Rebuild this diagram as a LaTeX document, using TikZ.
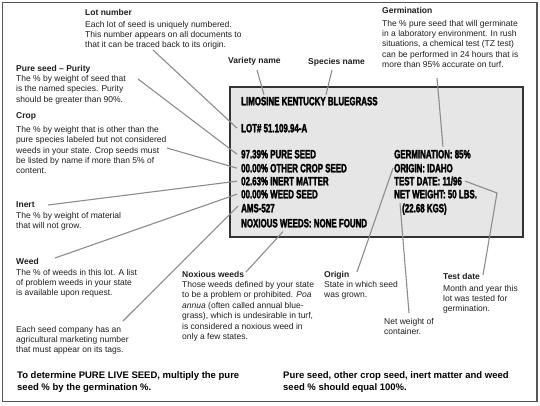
\documentclass[tikz,border=0pt]{standalone}
\usepackage{fontspec}
\setmainfont{Liberation Sans}
\newfontfamily\tagfont[FakeStretch=0.66,BoldFeatures={FakeBold=2.2}]{Liberation Sans}
\definecolor{framecol}{HTML}{555555}
\definecolor{boxfill}{HTML}{E6E6E6}
\definecolor{boxline}{HTML}{333333}
\definecolor{leadcol}{HTML}{8C8C8C}
\definecolor{txtcol}{HTML}{1E1E1E}
\tikzset{
  note/.style={anchor=north west,inner sep=0pt,align=left,text=txtcol,font=\fontsize{8.5}{10.4}\selectfont},
  bignote/.style={anchor=north west,inner sep=0pt,align=left,text=black,font=\fontsize{9.5}{12}\selectfont\bfseries},
  tagline/.style={anchor=base west,inner sep=0pt,text=black,font=\fontsize{12}{13}\tagfont\bfseries},
  leader/.style={draw=leadcol,line width=1.1pt},
}
\begin{document}
\begin{tikzpicture}[x=1pt,y=-1pt]
\useasboundingbox (0,0) rectangle (540,405);
% outer frame
\draw[framecol,line width=1.3pt] (2.5,2.5) rectangle (537,401.5);
% seed tag
\draw[boxline,fill=boxfill,line width=1.2pt] (230,87) rectangle (523,237);
\node[tagline] (variety) at (241,105.3) {LIMOSINE KENTUCKY BLUEGRASS};
\node[tagline] (lot) at (241,132.3) {LOT\# 51.109.94-A};
\node[tagline] (pure) at (241,158.3) {97.39\% PURE SEED};
\node[tagline] (crop) at (241,172.3) {00.00\% OTHER CROP SEED};
\node[tagline] (inert) at (241,185.3) {02.63\% INERT MATTER};
\node[tagline] (weed) at (241,198.3) {00.00\% WEED SEED};
\node[tagline] (ams) at (241,212.3) {AMS-527};
\node[tagline] (noxious) at (241,227.3) {NOXIOUS WEEDS: NONE FOUND};
\node[tagline] (germ) at (394,158.3) {GERMINATION: 85\%};
\node[tagline] (origin) at (394,172.3) {ORIGIN: IDAHO};
\node[tagline] (testdate) at (394,185.3) {TEST DATE: 11/96};
\node[tagline] (netwt) at (394,198.3) {NET WEIGHT: 50 LBS.};
\node[tagline] (kgs) at (402,212.3) {(22.68 KGS)};
% annotations
\node[note] (n-lot) at (85,8.8) {\textbf{Lot number}\\[1.6pt]Each lot of seed is uniquely numbered.\\This number appears on all documents to\\that it can be traced back to its origin.};
\node[note,anchor=base west] (n-variety) at (228,63) {\textbf{Variety name}};
\node[note,anchor=base west] (n-species) at (308,64) {\textbf{Species name}};
\node[note] (n-germ) at (382,6.8) {\textbf{Germination}\\[2.6pt]The \% pure seed that will germinate\\in a laboratory environment. In rush\\situations, a chemical test (TZ test)\\can be performed in 24 hours that is\\more than 95\% accurate on turf.};
\node[note] (n-pure) at (16,64.8) {\textbf{Pure seed – Purity}\\[0pt]The \% by weight of seed that\\is the named species. Purity\\should be greater than 90\%.};
\node[note] (n-crop) at (16,112.8) {\textbf{Crop}\\[3pt]The \% by weight that is other than the\\pure species labeled but not considered\\weeds in your state. Crop seeds must\\be listed by name if more than 5\% of\\content.};
\node[note] (n-inert) at (16,201.8) {\textbf{Inert}\\[0pt]The \% by weight of material\\that will not grow.};
\node[note] (n-weed) at (16,257.8) {\textbf{Weed}\\[0.6pt]The \% of weeds in this lot. A list\\of problem weeds in your state\\is available upon request.};
\node[note] (n-ams) at (16,325.8) {Each seed company has an\\agricultural marketing number\\that must appear on its tags.};
\node[note] (n-noxious) at (182,270.8) {\textbf{Noxious weeds}\\[0pt]Those weeds defined by your state\\to be a problem or prohibited. \textit{Poa}\\\textit{annua} (often called annual blue-\\grass), which is undesirable in turf,\\is considered a noxious weed in\\only a few states.};
\node[note] (n-origin) at (324,270.8) {\textbf{Origin}\\[0pt]State in which seed\\was grown.};
\node[note] (n-netwt) at (384,317.8) {Net weight of\\container.};
\node[note] (n-test) at (443,272.8) {\textbf{Test date}\\[1.6pt]Month and year this\\lot was tested for\\germination.};
\node[bignote] (b-left) at (17,371.5) {To determine PURE LIVE SEED, multiply the pure\\seed \% by the germination \%.};
\node[bignote] (b-right) at (283,371.5) {Pure seed, other crop seed, inert matter and weed\\seed \% should equal 100\%.};
% leader start points
\coordinate (s-lot) at (153,50);
\coordinate (s-pure) at (138,79);
\coordinate (s-crop) at (167,148);
\coordinate (s-inert) at (48,205);
\coordinate (s-weed) at (55,258);
\coordinate (s-ams) at (123,321);
\coordinate (s-variety) at (257,70);
\coordinate (s-species) at (332,70);
\coordinate (s-germ) at (437,78);
\coordinate (s-noxious) at (246,272);
\coordinate (s-origin) at (357,272);
\coordinate (s-netwt) at (409,313);
\coordinate (s-test) at (483,275);
\coordinate (k-test) at (497,193);
% leaders
\draw[leader] (s-lot) -- ([xshift=-4pt]lot.west);
\draw[leader] (s-pure) -- ([xshift=-4pt]pure.west);
\draw[leader] (s-crop) -- ([xshift=-4pt]crop.west);
\draw[leader] (s-inert) -- ([xshift=-4pt]inert.west);
\draw[leader] (s-weed) -- ([xshift=-4pt]weed.west);
\draw[leader] (s-ams) -- ([xshift=-3pt,yshift=2pt]ams.west);
\draw[leader] (s-variety) -- ([xshift=23pt,yshift=2pt]variety.north west);
\draw[leader] (s-species) -- ([xshift=85pt,yshift=2pt]variety.north west);
\draw[leader] (s-germ) -- ([xshift=49pt,yshift=3pt]germ.north west);
\draw[leader] (s-noxious) -- ([xshift=42pt,yshift=-4pt]noxious.south west);
\draw[leader] (s-origin) -- ([xshift=-1pt]origin.west);
\draw[leader] (s-netwt) -- ([xshift=-2pt]kgs.north west);
\draw[leader] (s-test) -- (k-test) -- ([xshift=3pt]testdate.east);
\end{tikzpicture}
\end{document}
